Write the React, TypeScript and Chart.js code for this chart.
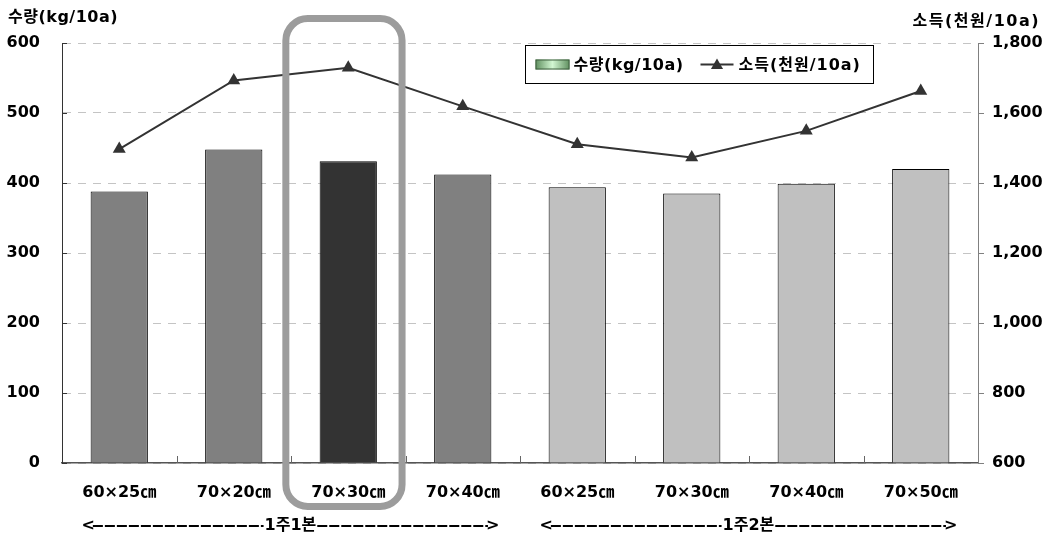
import React, { useEffect, useRef } from 'react';
import { Chart, registerables } from 'chart.js';

Chart.register(...registerables);

const categories = ['60×25㎝', '70×20㎝', '70×30㎝', '70×40㎝', '60×25㎝', '70×30㎝', '70×40㎝', '70×50㎝'];
const yieldValues = [388, 448, 431, 412, 394, 385, 399, 420];
const incomeValues = [1497, 1693, 1729, 1619, 1511, 1473, 1549, 1663];
const barColors = ['#808080', '#808080', '#333333', '#808080', '#c0c0c0', '#c0c0c0', '#c0c0c0', '#c0c0c0'];
const groupLabels = ['1주1본', '1주2본'];
const groupFrom = [0, 4];
const groupTo = [3, 7];
const highlightIndex = 2;
const yieldLabel = '수량(kg/10a)';
const incomeLabel = '소득(천원/10a)';
const leftMin = 0;
const leftMax = 600;
const leftStep = 100;
const rightMin = 600;
const rightMax = 1800;
const rightStep = 200;

const FAMILY = '"DejaVu Sans", "Noto Sans CJK KR", sans-serif';
const FONT = `bold 16px ${FAMILY}`;

function drawTriangle(ctx: CanvasRenderingContext2D, x: number, y: number, r: number) {
  ctx.beginPath();
  ctx.moveTo(x, y - r);
  ctx.lineTo(x + r * 0.866, y + r * 0.5);
  ctx.lineTo(x - r * 0.866, y + r * 0.5);
  ctx.closePath();
  ctx.fill();
}

const overlayPlugin = {
  id: 'overlay',
  afterDatasetsDraw(chart: any) {
    const ctx: CanvasRenderingContext2D = chart.ctx;
    const xs = chart.scales.x;
    const y = chart.scales.y;
    const y1 = chart.scales.y1;
    const area = chart.chartArea;
    const catW = xs.getPixelForValue(1) - xs.getPixelForValue(0);
    ctx.save();
    ctx.strokeStyle = '#666';
    ctx.lineWidth = 1;
    for (let i = 1; i < categories.length; i++) {
      const bx = Math.round(xs.getPixelForValue(i) - catW / 2) + 0.5;
      ctx.beginPath();
      ctx.moveTo(bx, area.bottom);
      ctx.lineTo(bx, area.bottom - 7);
      ctx.stroke();
    }
    ctx.strokeStyle = '#333';
    for (let v = leftMin; v <= leftMax; v += leftStep) {
      const py = Math.round(y.getPixelForValue(v)) + 0.5;
      ctx.beginPath();
      ctx.moveTo(area.left, py);
      ctx.lineTo(area.left + 5, py);
      ctx.stroke();
    }
    ctx.strokeStyle = '#808080';
    for (let v = rightMin; v <= rightMax; v += rightStep) {
      const py = Math.round(y1.getPixelForValue(v)) + 0.5;
      ctx.beginPath();
      ctx.moveTo(area.right, py);
      ctx.lineTo(area.right + 6, py);
      ctx.stroke();
    }
    ctx.restore();
  },
  afterDraw(chart: any) {
    const ctx: CanvasRenderingContext2D = chart.ctx;
    const xs = chart.scales.x;
    const area = chart.chartArea;
    const catW = xs.getPixelForValue(1) - xs.getPixelForValue(0);
    ctx.save();

    // highlight rounded box
    const cx = xs.getPixelForValue(highlightIndex);
    const bl = cx - 0.545 * catW;
    const br = cx + 0.47 * catW;
    const bt = area.top - 24.5;
    const bb = area.bottom + 43.5;
    ctx.strokeStyle = '#9c9c9c';
    ctx.lineWidth = 7;
    ctx.beginPath();
    (ctx as any).roundRect(bl, bt, br - bl, bb - bt, 22);
    ctx.stroke();

    // axis titles
    ctx.font = FONT;
    ctx.fillStyle = '#000';
    ctx.textBaseline = 'middle';
    (ctx as any).letterSpacing = '0.5px';
    ctx.textAlign = 'left';
    ctx.fillText(yieldLabel, 8, area.top - 25);
    (ctx as any).letterSpacing = '1.5px';
    ctx.textAlign = 'right';
    ctx.fillText(incomeLabel, chart.width - 5, area.top - 21);

    // legend
    (ctx as any).letterSpacing = '0.5px';
    const t1w = ctx.measureText(yieldLabel).width;
    const legR = area.right - 105;
    const legW = 348;
    const legH = 38;
    const L = Math.round(legR - legW) + 0.5;
    const T = Math.round(area.top + 2) + 0.5;
    ctx.fillStyle = '#fff';
    ctx.fillRect(L, T, legW, legH);
    ctx.strokeStyle = '#000';
    ctx.lineWidth = 1;
    ctx.strokeRect(L, T, legW, legH);
    const my = T + legH / 2;
    const ix = L + 10;
    const grad = ctx.createLinearGradient(ix, 0, ix + 34, 0);
    grad.addColorStop(0, '#5f8f5f');
    grad.addColorStop(0.5, '#d2f7d2');
    grad.addColorStop(1, '#5f8f5f');
    ctx.fillStyle = grad;
    ctx.fillRect(ix, my - 5, 34, 10);
    ctx.strokeStyle = '#3e5e3e';
    ctx.strokeRect(ix + 0.5, my - 5 + 0.5, 33, 9);
    ctx.fillStyle = '#000';
    ctx.textAlign = 'left';
    ctx.textBaseline = 'middle';
    ctx.fillText(yieldLabel, ix + 38, my + 1);
    const lx = Math.max(L + 175, ix + 38 + t1w + 12);
    ctx.strokeStyle = '#333';
    ctx.lineWidth = 2;
    ctx.beginPath();
    ctx.moveTo(lx, my);
    ctx.lineTo(lx + 33, my);
    ctx.stroke();
    ctx.fillStyle = '#333';
    drawTriangle(ctx, lx + 16.5, my + 1, 7);
    ctx.fillStyle = '#000';
    (ctx as any).letterSpacing = '1px';
    ctx.textAlign = 'left';
    ctx.fillText(incomeLabel, lx + 38, my + 1);

    // group arrows
    (ctx as any).letterSpacing = '0px';
    const gy = area.bottom + 63;
    ctx.font = FONT;
    for (let g = 0; g < groupLabels.length; g++) {
      const sx = xs.getPixelForValue(groupFrom[g]) - 0.33 * catW;
      const ex = xs.getPixelForValue(groupTo[g]) + 0.32 * catW;
      const mid = (sx + ex) / 2;
      const lw = ctx.measureText(groupLabels[g]).width;
      const ltW = ctx.measureText('<').width;
      const gtW = ctx.measureText('>').width;
      ctx.fillStyle = '#000';
      ctx.textAlign = 'left';
      ctx.fillText('<', sx, gy);
      ctx.textAlign = 'right';
      ctx.fillText('>', ex, gy);
      ctx.textAlign = 'center';
      ctx.fillText(groupLabels[g], mid, gy);
      ctx.strokeStyle = '#000';
      ctx.lineWidth = 2;
      ctx.setLineDash([10, 2]);
      ctx.beginPath();
      ctx.moveTo(sx + ltW - 2, gy);
      ctx.lineTo(mid - lw / 2 - 1, gy);
      ctx.moveTo(mid + lw / 2 + 1, gy);
      ctx.lineTo(ex - gtW + 2, gy);
      ctx.stroke();
      ctx.setLineDash([]);
    }
    ctx.restore();
  },
};

export default function App() {
  const ref = useRef<HTMLCanvasElement | null>(null);
  useEffect(() => {
    document.body.style.margin = '0';
    const canvas = ref.current;
    if (!canvas) return;
    const tickFont = { family: FAMILY, size: 16, weight: 'bold' as const };
    const chart = new Chart(canvas, {
      type: 'bar',
      data: {
        labels: categories,
        datasets: [
          {
            type: 'line' as const,
            label: incomeLabel,
            data: incomeValues,
            yAxisID: 'y1',
            borderColor: '#333333',
            borderWidth: 2,
            backgroundColor: '#333333',
            pointStyle: 'triangle',
            pointRadius: 7.5,
            pointBackgroundColor: '#333333',
            pointBorderColor: '#333333',
            pointBorderWidth: 0,
            tension: 0,
            order: 1,
          } as any,
          {
            type: 'bar' as const,
            label: yieldLabel,
            data: yieldValues,
            yAxisID: 'y',
            backgroundColor: barColors,
            borderColor: '#000000',
            borderWidth: 1,
            barPercentage: 0.5,
            categoryPercentage: 1,
            order: 2,
          },
        ],
      },
      options: {
        animation: false,
        responsive: true,
        maintainAspectRatio: false,
        layout: { padding: { top: 43, left: 0, right: 0, bottom: 0 } },
        plugins: { legend: { display: false }, tooltip: { enabled: false } },
        scales: {
          x: {
            type: 'category',
            offset: true,
            grid: { display: false, drawTicks: false },
            border: { display: true, color: '#555555', width: 1.5 },
            ticks: { font: tickFont, color: '#000', padding: 20, maxRotation: 0, autoSkip: false },
            afterFit: (s: any) => { s.height = 74; },
          },
          y: {
            type: 'linear',
            position: 'left',
            min: leftMin,
            max: leftMax,
            ticks: { stepSize: leftStep, font: tickFont, color: '#000', padding: 22 },
            grid: { color: '#c4c4c4', drawTicks: false, lineWidth: 1 },
            border: { display: true, color: '#333', width: 1, dash: [8, 7] },
            afterFit: (s: any) => { s.width = 62; },
          },
          y1: {
            type: 'linear',
            position: 'right',
            min: rightMin,
            max: rightMax,
            ticks: {
              stepSize: rightStep,
              font: tickFont,
              color: '#000',
              padding: 14,
              callback: (v: any) => Number(v).toLocaleString('en-US'),
            },
            grid: { display: false, drawTicks: false },
            border: { display: true, color: '#808080', width: 1 },
            afterFit: (s: any) => { s.width = 67; },
          },
        },
      },
      plugins: [overlayPlugin],
    });
    return () => chart.destroy();
  }, []);
  return (
    <div style={{ position: 'relative', width: 1045, height: 537, background: '#fff' }}>
      <canvas ref={ref} />
    </div>
  );
}
